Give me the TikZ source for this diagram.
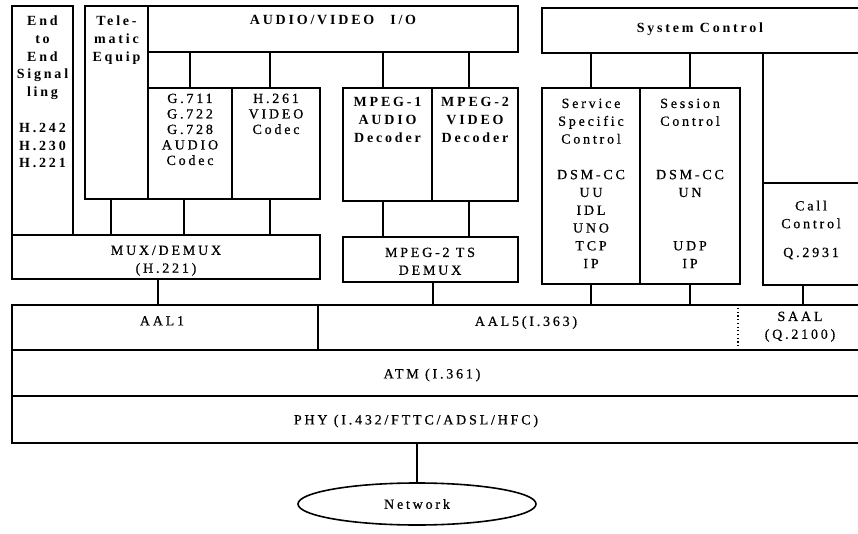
\documentclass[tikz,border=0pt]{standalone}
\usepackage{fontspec}
\setmainfont{Liberation Serif}
\newfontfamily\spaced[LetterSpace=20, FakeBold=0.6]{Liberation Serif}
\newfontfamily\spacedbf[LetterSpace=20]{Liberation Serif Bold}
\usetikzlibrary{shapes.geometric}
\tikzset{
  box/.style={draw, line width=2.4pt, inner sep=0pt, outer sep=0pt, anchor=north west},
  lbl/.style={inner sep=0pt, anchor=north, align=center, font=\spaced\fontsize{14}{17.8}\selectfont},
  tight/.style={font=\spaced\fontsize{14}{15.5}\selectfont},
  heavy/.style={font=\spacedbf\fontsize{14}{17.8}\selectfont},
  wire/.style={line width=2pt},
}
\begin{document}
\begin{tikzpicture}[x=1pt,y=-1pt]
\useasboundingbox (0,0) rectangle (858,534);
\clip (0,0) rectangle (858,534);
% boxes
\node[box, minimum width=61pt,  minimum height=229pt] (endsig) at (12,6) {};
\node[box, minimum width=63pt,  minimum height=193pt] (telem)  at (85,6) {};
\node[box, minimum width=370pt, minimum height=46pt]  (avio)   at (148,6) {};
\node[box, minimum width=84pt,  minimum height=111pt] (g711)   at (148,88) {};
\node[box, minimum width=88pt,  minimum height=111pt] (h261)   at (232,88) {};
\node[box, minimum width=89pt,  minimum height=113pt] (mpega)  at (343,88) {};
\node[box, minimum width=86pt,  minimum height=113pt] (mpegv)  at (432,88) {};
\node[box, minimum width=308pt, minimum height=44pt]  (mux)    at (12,235) {};
\node[box, minimum width=175pt, minimum height=45pt]  (ts)     at (343,237) {};
\node[box, minimum width=324pt, minimum height=45pt]  (syscon) at (542,8) {};
\node[box, minimum width=98pt,  minimum height=196pt] (ssc)    at (542,88) {};
\node[box, minimum width=100pt, minimum height=196pt] (sess)   at (640,88) {};
\node[box, minimum width=103pt, minimum height=102pt] (call)   at (763,183) {};
\node[box, minimum width=306pt, minimum height=45pt]  (aalone) at (12,305) {};
\node[box, minimum width=548pt, minimum height=45pt]  (aalfive) at (318,305) {};
\node[box, minimum width=854pt, minimum height=46pt]  (atm)    at (12,350) {};
\node[box, minimum width=854pt, minimum height=47pt]  (phy)    at (12,396) {};
\node[inner sep=0pt, outer sep=0pt, anchor=north west, minimum width=128pt, minimum height=42pt] (saal) at (738,308) {};
\draw[line width=1.2pt, dash pattern=on 1.2pt off 2.5pt] (saal.north west) -- (saal.south west);
\node[draw, ellipse, line width=1.6pt, inner sep=0pt, minimum width=238pt, minimum height=42pt,
      font=\spaced\fontsize{14}{17.8}\selectfont] (net) at (417,504) {Network};
% labels
\node[lbl, heavy] (tendsig) at (42.5,15.5) {End\\to\\End\\Signal\\ling\\[17.8pt]H.242\\H.230\\H.221};
\node[lbl, heavy] (ttelem) at (116.5,15.5) {Tele-\\matic\\Equip};
\node[lbl, heavy] (tavio) at (333,15.5) {AUDIO/VIDEO\hspace{16pt}I/O};
\node[lbl, tight] (tg711) at (190,93.5) {G.711\\G.722\\G.728\\AUDIO\\Codec};
\node[lbl, tight] (th261) at (276,93.5) {H.261\\VIDEO\\Codec};
\node[lbl, heavy] (tmpega) at (387.5,97.5) {MPEG-1\\AUDIO\\Decoder};
\node[lbl, heavy] (tmpegv) at (475,97.5) {MPEG-2\\VIDEO\\Decoder};
\node[lbl] (tmux) at (166,245.5) {MUX/DEMUX\\(H.221)};
\node[lbl] (tts) at (430,247.5) {MPEG-2 TS\\DEMUX};
\node[lbl, heavy] (tsyscon) at (700,22.5) {System Control};
\node[lbl] (tssc) at (591,98.5) {Service\\Specific\\Control\\[17.8pt]DSM-CC\\UU\\IDL\\UNO\\TCP\\IP};
\node[lbl] (tsess) at (690,98.5) {Session\\Control\\[35.6pt]DSM-CC\\UN\\[35.6pt]UDP\\IP};
\node[lbl] (tcall) at (811,200.5) {Call\\Control\\[11pt]Q.2931};
\node[lbl] (taalone) at (162,316) {AAL1};
\node[lbl] (taalfive) at (526,316) {AAL5(I.363)};
\node[lbl] (tsaal) at (800,311.5) {SAAL\\(Q.2100)};
\node[lbl] (tatm) at (432,368.5) {ATM (I.361)};
\node[lbl] (tphy) at (416,414.5) {PHY (I.432/FTTC/ADSL/HFC)};
% connectors
\draw[wire] (g711.north) -- (g711.north |- avio.south);
\draw[wire] ([xshift=-6pt]h261.north) -- ([xshift=-6pt]h261.north |- avio.south);
\draw[wire] ([xshift=-5pt]mpega.north) -- ([xshift=-5pt]mpega.north |- avio.south);
\draw[wire] ([xshift=-6pt]mpegv.north) -- ([xshift=-6pt]mpegv.north |- avio.south);
\draw[wire] ([xshift=-6pt]telem.south) -- ([xshift=-6pt]telem.south |- mux.north);
\draw[wire] ([xshift=-6pt]g711.south) -- ([xshift=-6pt]g711.south |- mux.north);
\draw[wire] ([xshift=-6pt]h261.south) -- ([xshift=-6pt]h261.south |- mux.north);
\draw[wire] ([xshift=-5pt]mpega.south) -- ([xshift=-5pt]mpega.south |- ts.north);
\draw[wire] ([xshift=-6pt]mpegv.south) -- ([xshift=-6pt]mpegv.south |- ts.north);
\draw[wire] ([xshift=-8pt]mux.south) -- ([xshift=-8pt]mux.south |- aalone.north);
\draw[wire] ([xshift=2pt]ts.south) -- ([xshift=2pt]ts.south |- aalfive.north);
\draw[wire] (ssc.north) -- (ssc.north |- syscon.south);
\draw[wire] (sess.north) -- (sess.north |- syscon.south);
\draw[wire] (call.north west) -- (call.north west |- syscon.south);
\draw[wire] (ssc.south) -- (ssc.south |- aalfive.north);
\draw[wire] (sess.south) -- (sess.south |- aalfive.north);
\draw[wire] ([xshift=-12pt]call.south) -- ([xshift=-12pt]call.south |- aalfive.north);
\draw[wire] (phy.south -| net.north) -- (net.north);
\end{tikzpicture}
\end{document}
